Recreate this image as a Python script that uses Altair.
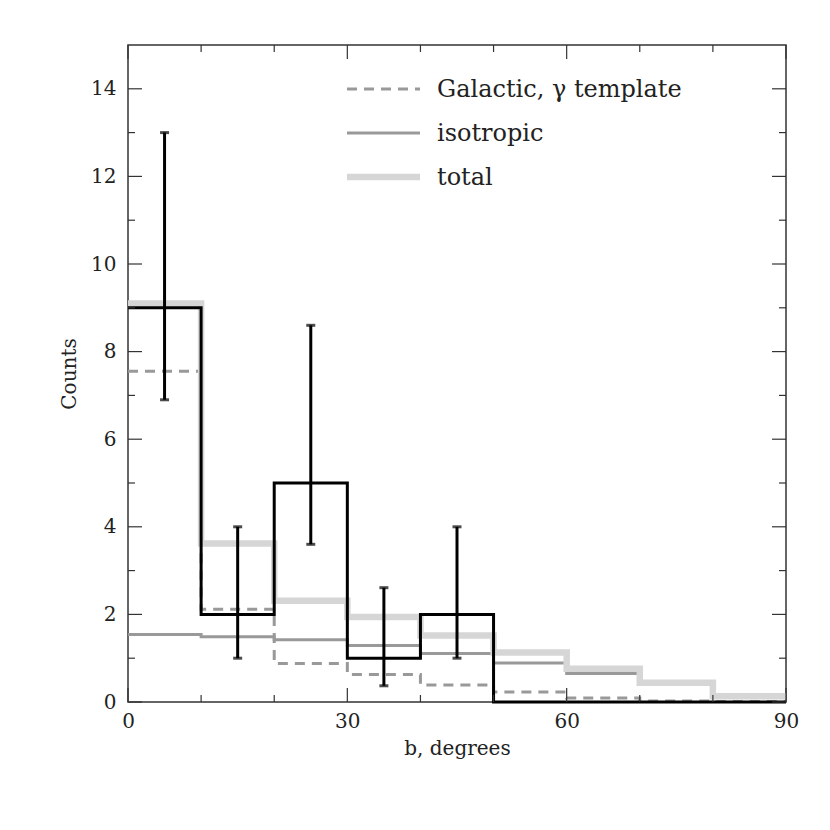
import altair as alt
import pandas as pd

# bin edges (degrees) and per-bin values
edges = [0, 10, 20, 30, 40, 50, 60, 70, 80, 90]
observed = [9, 2, 5, 1, 2, 0, 0, 0, 0]
galactic = [7.55, 2.12, 0.88, 0.63, 0.39, 0.23, 0.09, 0.02, 0.01]
isotropic = [1.54, 1.49, 1.42, 1.29, 1.11, 0.89, 0.65, 0.42, 0.12]
total = [9.1, 3.62, 2.31, 1.94, 1.52, 1.13, 0.76, 0.44, 0.13]

err_x = [5, 15, 25, 35, 45]
err_lo = [6.9, 1.0, 3.6, 0.37, 1.0]
err_hi = [13.0, 4.0, 8.6, 2.61, 4.0]

x_major = [0, 30, 60, 90]
x_minor = [10, 20, 40, 50, 70, 80]
y_major = [0, 2, 4, 6, 8, 10, 12, 14]
y_minor = [1, 3, 5, 7, 9, 11, 13]

legend_labels = ["Galactic, \u03b3 template", "isotropic", "total"]

W, H = 658, 657
FONT = "DejaVu Serif"
TXT = "#222222"

xscale = alt.Scale(domain=[0, 90], nice=False, zero=False)
yscale = alt.Scale(domain=[0, 15], nice=False, zero=False)

xaxis = alt.Axis(values=x_major, tickSize=0, domain=False, grid=False,
                 labelFlush=False, labelOverlap=False,
                 labelFont=FONT, labelFontSize=20, labelColor=TXT, labelPadding=9,
                 titleFont=FONT, titleFontSize=20, titleFontWeight="normal",
                 titleColor=TXT, titlePadding=7)
yaxis = alt.Axis(values=y_major, tickSize=0, domain=False, grid=False,
                 labelFlush=False, labelOverlap=False,
                 labelFont=FONT, labelFontSize=20, labelColor=TXT, labelPadding=12,
                 titleFont=FONT, titleFontSize=20, titleFontWeight="normal",
                 titleColor=TXT, titlePadding=11)


def X(field):
    return alt.X(field, type="quantitative", scale=xscale, axis=xaxis, title="b, degrees")


def Y(field):
    return alt.Y(field, type="quantitative", scale=yscale, axis=yaxis, title="Counts")


def step_df(vals):
    return pd.DataFrame({"x": edges, "y": list(vals) + [vals[-1]]})


def step_layer(vals, color, width, dash=None):
    kw = dict(interpolate="step-after", color=color, strokeWidth=width, strokeCap="butt")
    if dash:
        kw["strokeDash"] = dash
    return alt.Chart(step_df(vals)).mark_line(**kw).encode(x=X("x"), y=Y("y"))


iso_l = step_layer(isotropic, "#999999", 3)
gal_l = step_layer(galactic, "#999999", 3, dash=[10, 7])
tot_l = step_layer(total, "#d6d6d6", 6.5)
obs_l = step_layer(observed, "#000000", 3)

err_df = pd.DataFrame({"x": err_x, "lo": err_lo, "hi": err_hi})
err_rule = alt.Chart(err_df).mark_rule(color="black", strokeWidth=3).encode(
    x=X("x"), y=Y("lo"), y2="hi:Q")
cap_lo = alt.Chart(err_df).mark_tick(color="black", thickness=3, size=9, orient="horizontal").encode(
    x=X("x"), y=Y("lo"))
cap_hi = alt.Chart(err_df).mark_tick(color="black", thickness=3, size=9, orient="horizontal").encode(
    x=X("x"), y=Y("hi"))


# inward tick marks on all four sides
def yticks(vals, length):
    df = pd.DataFrame({"y": vals})
    left = alt.Chart(df).mark_rule(color="#333333", strokeWidth=1.2).encode(
        y=Y("y"), x=alt.value(0), x2=alt.value(length))
    right = alt.Chart(df).mark_rule(color="#333333", strokeWidth=1.2).encode(
        y=Y("y"), x=alt.value(W), x2=alt.value(W - length))
    return [left, right]


def xticks(vals, length):
    df = pd.DataFrame({"x": vals})
    bottom = alt.Chart(df).mark_rule(color="#333333", strokeWidth=1.2).encode(
        x=X("x"), y=alt.value(H), y2=alt.value(H - length))
    top = alt.Chart(df).mark_rule(color="#333333", strokeWidth=1.2).encode(
        x=X("x"), y=alt.value(0), y2=alt.value(length))
    return [bottom, top]


tick_layers = yticks(y_major, 14) + yticks(y_minor, 7) + xticks(x_major, 14) + xticks(x_minor, 7)

# legend (inside plot, top right)
leg_y = [44, 88, 132]
one = pd.DataFrame({"a": [0]})
leg_gal = alt.Chart(one).mark_rule(color="#999999", strokeWidth=3, strokeDash=[10, 7]).encode(
    x=alt.value(219), x2=alt.value(292), y=alt.value(leg_y[0]))
leg_iso = alt.Chart(one).mark_rule(color="#999999", strokeWidth=3).encode(
    x=alt.value(219), x2=alt.value(292), y=alt.value(leg_y[1]))
leg_tot = alt.Chart(one).mark_rule(color="#d6d6d6", strokeWidth=6.5).encode(
    x=alt.value(219), x2=alt.value(292), y=alt.value(leg_y[2]))
leg_text = [
    alt.Chart(pd.DataFrame({"t": [lab]})).mark_text(
        align="left", baseline="middle", font=FONT, fontSize=24, color=TXT).encode(
        text="t:N", x=alt.value(309), y=alt.value(yy + 1))
    for lab, yy in zip(legend_labels, leg_y)
]

chart = alt.layer(
    iso_l, gal_l, tot_l, obs_l, err_rule, cap_lo, cap_hi,
    *tick_layers, leg_gal, leg_iso, leg_tot, *leg_text
).properties(
    width=W, height=H,
    autosize="none",
    padding={"left": 120, "top": 37, "right": 30, "bottom": 90},
    background="white",
).configure_view(stroke="#333333", strokeWidth=1.5)

chart.save("out.html", embed_options={"renderer": "svg", "actions": False})
